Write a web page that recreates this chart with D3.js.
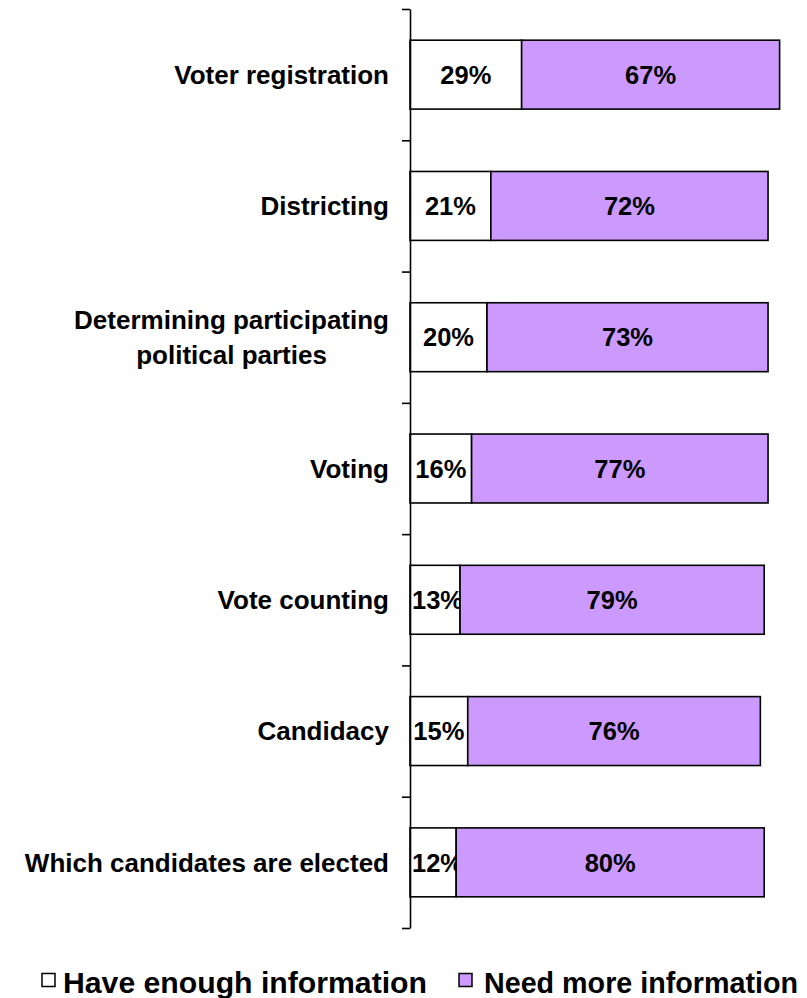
<!DOCTYPE html>
<html>
<head>
<meta charset="utf-8">
<script src="https://cdn.jsdelivr.net/npm/d3@7"></script>
<style>
  html, body { margin: 0; padding: 0; background: #fff; }
  svg { display: block; font-family: "Liberation Sans", Arial, sans-serif; font-weight: bold; }
</style>
</head>
<body>
<svg id="chart" width="807" height="998"></svg>
<script>
const categories = [
  ["Voter registration"],
  ["Districting"],
  ["Determining participating", "political parties"],
  ["Voting"],
  ["Vote counting"],
  ["Candidacy"],
  ["Which candidates are elected"]
];
const haveEnough = [29, 21, 20, 16, 13, 15, 12];
const needMore   = [67, 72, 73, 77, 79, 76, 80];
const seriesNames = ["Have enough information", "Need more information"];
const seriesColors = ["#FFFFFF", "#CC99FF"];

const svg = d3.select("#chart");

const axisX = 410, plotTop = 9, plotBottom = 928;
const x = d3.scaleLinear().domain([0, 100]).range([axisX, axisX + 385]);
const yIdx = d3.scaleLinear().domain([0, categories.length]).range([plotTop, plotBottom]);
const y = d3.scaleBand().domain(d3.range(categories.length)).range([plotTop, plotBottom]).paddingInner(0.475).paddingOuter(0.2375);

const rows = categories.map((c, i) => ({ i, label: c, vals: [haveEnough[i], needMore[i]] }));

// bars
const g = svg.append("g");
rows.forEach(r => {
  let cum = 0;
  r.vals.forEach((v, s) => {
    const x0 = x(cum), x1 = x(cum + v);
    g.append("rect")
      .attr("x", x0).attr("y", y(r.i))
      .attr("width", x1 - x0).attr("height", y.bandwidth())
      .attr("fill", seriesColors[s])
      .attr("stroke", "#000").attr("stroke-width", 1.6);
    const t = g.append("text")
      .attr("x", (x0 + x1) / 2)
      .attr("y", y(r.i) + y.bandwidth() / 2)
      .attr("dy", "0.36em")
      .attr("text-anchor", "middle")
      .attr("font-size", 25.5)
      .attr("fill", "#000")
      .text(v + "%");
    const w = t.node().getComputedTextLength();
    if ((x0 + x1) / 2 - w / 2 < axisX + 2) t.attr("x", axisX + 2 + w / 2);
    cum += v;
  });
});

// axis
const axis = d3.axisLeft(yIdx).tickValues(d3.range(categories.length + 1))
  .tickFormat("").tickSize(8).tickSizeOuter(0);
const ag = svg.append("g").attr("transform", `translate(${axisX},0)`).call(axis);
ag.select(".domain").attr("stroke", "#000").attr("stroke-width", 1.6);
ag.selectAll(".tick line").attr("stroke", "#000").attr("stroke-width", 1.6);

// category labels
const labelRight = 389, lineH = 35;
rows.forEach(r => {
  const cy = y(r.i) + y.bandwidth() / 2;
  const n = r.label.length;
  const lg = svg.append("g");
  const texts = r.label.map((line, k) => lg.append("text")
    .attr("y", cy + (k - (n - 1) / 2) * lineH)
    .attr("dy", "0.36em")
    .attr("text-anchor", "middle")
    .attr("font-size", 26)
    .attr("fill", "#000")
    .text(line));
  const maxW = d3.max(texts, t => t.node().getComputedTextLength());
  texts.forEach(t => t.attr("x", labelRight - maxW / 2));
});

// legend
const legendItems = [
  { name: seriesNames[0], color: seriesColors[0], bx: 42, tx: 63, w: 364 },
  { name: seriesNames[1], color: seriesColors[1], bx: 459, tx: 484, w: 314 }
];
const leg = svg.append("g");
legendItems.forEach(d => {
  leg.append("rect").attr("x", d.bx).attr("y", 973.5).attr("width", 13).attr("height", 13)
    .attr("fill", d.color).attr("stroke", "#000").attr("stroke-width", 1.5);
  leg.append("text").attr("x", d.tx).attr("y", 993)
    .attr("font-size", 29.5).attr("fill", "#000")
    .attr("textLength", d.w).attr("lengthAdjust", "spacingAndGlyphs")
    .text(d.name);
});
</script>
</body>
</html>
